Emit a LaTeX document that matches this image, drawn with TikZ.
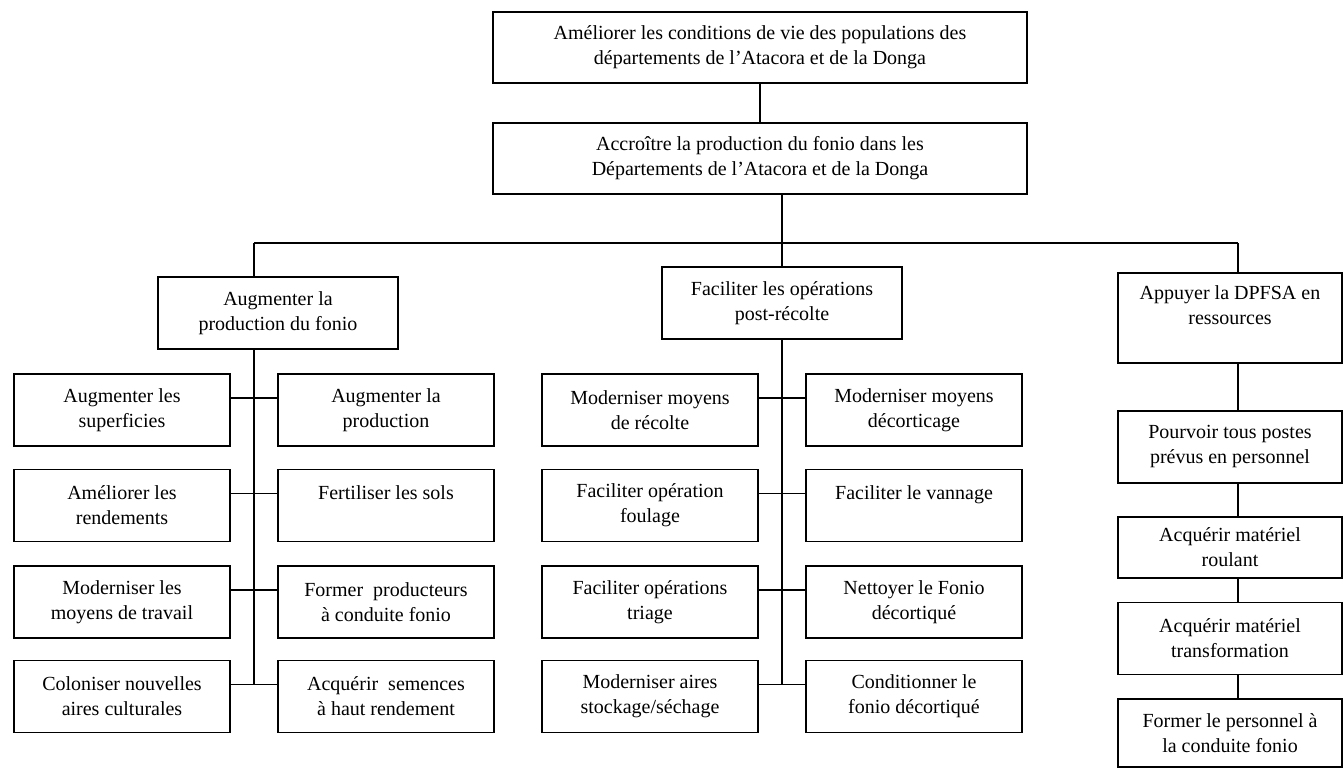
\documentclass[tikz,border=0pt]{standalone}
\usepackage{fontspec}
\setmainfont{Liberation Serif}
\usetikzlibrary{calc}

\tikzset{
	box/.style={draw, align=center, inner sep=2pt, minimum height=72pt,
		font=\fontsize{20}{25}\selectfont},
	subbox/.style={box, minimum width=216pt},
	resbox/.style={box, minimum width=224pt},
}

\begin{document}
\begin{tikzpicture}[x=1pt, y=-1pt, line width=1.6pt]
		\useasboundingbox (0,0) rectangle (1344,768);
		%objectifs du haut
		\node (goal) at (760,47.5) [box, minimum width=534pt, minimum height=71pt]{Améliorer les conditions de vie des populations des\\départements de l’Atacora et de la Donga};
		\node (prod) at (760,158.5) [box, minimum width=534pt, minimum height=71pt]{Accroître la production du fonio dans les\\Départements de l’Atacora et de la Donga};
		\draw (goal) -- (prod);
		
		%trois axes
		\node (aug) at (278,313) [box, minimum width=240pt]{Augmenter la\\production du fonio};
		\node (fac) at (782,303) [box, minimum width=240pt]{Faciliter les opérations\\post-récolte};
		\node (app) at (1230,318) [resbox, minimum height=90pt]{Appuyer la DPFSA en\\ressources\\~};
		
		\coordinate (bar1) at (254,243);
		\coordinate (bar3) at (1238,243);
		\draw (prod.south -| fac.north) -- (fac.north);
		\draw (bar1) -- (bar3);
		\draw (bar1) -- (bar1 |- aug.north);
		\draw (bar3) -- (bar3 |- app.north);
		
		%actions: production
		\node (augL1) at (122,410) [subbox]{Augmenter les\\superficies};
		\node (augR1) at (386,410) [subbox]{Augmenter la\\production};
		\node (augL2) at (122,505.5) [subbox]{Améliorer les\\rendements};
		\node (augR2) at (386,505.5) [subbox]{Fertiliser les sols\\~};
		\node (augL3) at (122,602) [subbox]{Moderniser les\\moyens de travail};
		\node (augR3) at (386,602) [subbox]{Former\ \ producteurs\\à conduite fonio};
		\node (augL4) at (122,696.5) [subbox]{Coloniser nouvelles\\aires culturales};
		\node (augR4) at (386,696.5) [subbox]{Acquérir\ \ semences\\à haut rendement};
		
		%actions: post-recolte
		\node (facL1) at (650,410) [subbox]{Moderniser moyens\\de récolte};
		\node (facR1) at (914,410) [subbox]{Moderniser moyens\\décorticage};
		\node (facL2) at (650,505.5) [subbox]{Faciliter opération\\foulage};
		\node (facR2) at (914,505.5) [subbox]{Faciliter le vannage\\~};
		\node (facL3) at (650,602) [subbox]{Faciliter opérations\\triage};
		\node (facR3) at (914,602) [subbox]{Nettoyer le Fonio\\décortiqué};
		\node (facL4) at (650,696.5) [subbox]{Moderniser aires\\stockage/séchage};
		\node (facR4) at (914,696.5) [subbox]{Conditionner le\\fonio décortiqué};
		
		\foreach \g in {aug, fac}{
			\foreach \i in {1,...,4}{
				\draw ([yshift=12pt]\g L\i.east) -- ([yshift=12pt]\g R\i.west);
			}
		}
		\coordinate (end1) at ([yshift=12pt]augL4.east);
		\coordinate (end2) at ([yshift=12pt]facL4.east);
		\draw (bar1 |- aug.south) -- (bar1 |- end1);
		\draw (fac.south) -- (fac.south |- end2);
		
		%ressources
		\node (pour) at (1230,447) [resbox]{Pourvoir tous postes\\prévus en personnel};
		\node (roul) at (1230,547.5) [resbox, minimum height=61pt]{Acquérir matériel\\roulant};
		\node (trans) at (1230,638.5) [resbox]{Acquérir matériel\\transformation};
		\node (form) at (1230,733) [resbox, minimum height=68pt]{Former le personnel à\\la conduite fonio};
		\foreach \a/\b in {app/pour, pour/roul, roul/trans, trans/form}{
			\draw (bar3 |- \a.south) -- (bar3 |- \b.north);
		}
		\end{tikzpicture}
\end{document}
